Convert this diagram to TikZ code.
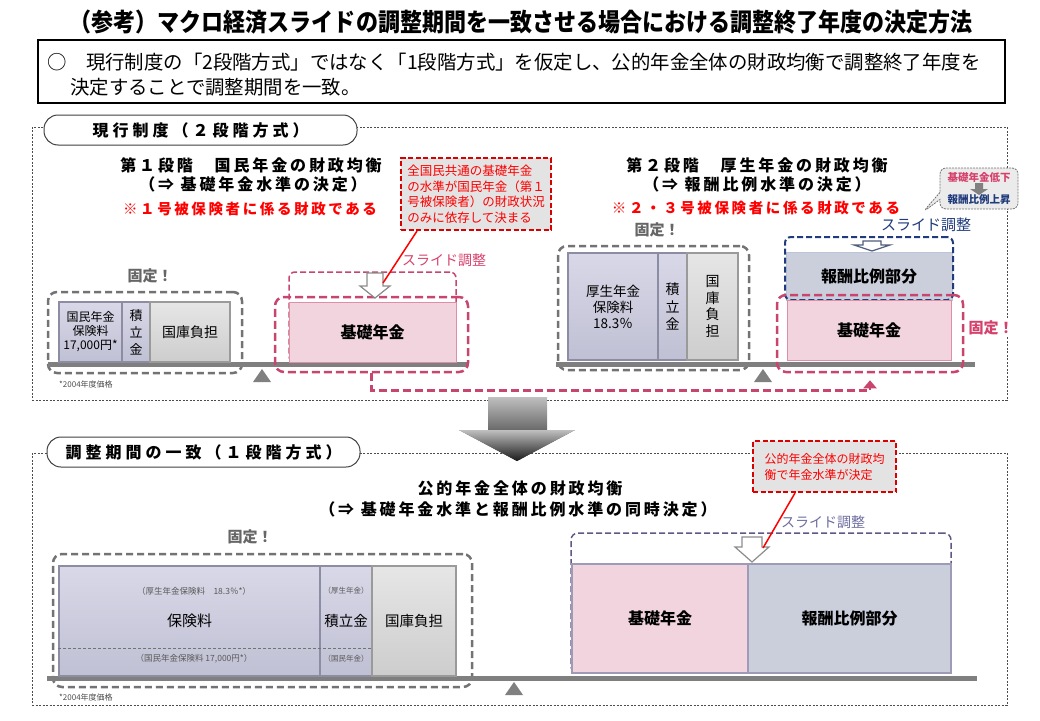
\documentclass[tikz,border=0pt]{standalone}
\usepackage{fontspec}
\setmainfont{Noto Sans CJK JP}
\newfontfamily\spaced{Noto Sans CJK JP}[LetterSpace=25]
\newfontfamily\spacedh{Noto Sans CJK JP}[LetterSpace=18]
\usetikzlibrary{shapes.callouts,arrows.meta,calc}
\definecolor{pinkd}{HTML}{C8456E}
\definecolor{pinkt}{HTML}{D6416C}
\definecolor{pinkf}{HTML}{F2D4DE}
\definecolor{lavt}{HTML}{D8D8E8}
\definecolor{lavbot}{HTML}{C0C0D4}
\definecolor{lavb}{HTML}{8C8CA2}
\definecolor{grt}{HTML}{E6E6E6}
\definecolor{grbot}{HTML}{CDCDCD}
\definecolor{grb}{HTML}{9A9A9A}
\definecolor{navy}{HTML}{1F3B7B}
\definecolor{bluef}{HTML}{CBCFDC}
\definecolor{purp}{HTML}{5E5886}
\definecolor{purpt}{HTML}{6C6CA0}
\definecolor{callf}{HTML}{E3E3E3}
\definecolor{beamc}{HTML}{7F7F7F}
\tikzset{
  secbox/.style={draw=black!70, line width=0.8pt, dash pattern=on 2pt off 1.5pt, inner sep=0},
  pill/.style={draw=black!75, fill=white, line width=1pt, rounded corners=14pt, inner sep=0, font=\spaced\bfseries\fontsize{16}{19}\selectfont},
  head/.style={font=\spacedh\bfseries\fontsize{16}{19}\selectfont, inner sep=0},
  redhead/.style={font=\spacedh\bfseries\fontsize{14.5}{17}\selectfont, text=red, inner sep=0},
  grpgray/.style={draw=black!55, line width=2.5pt, dash pattern=on 7pt off 4pt, rounded corners=9pt, inner sep=0},
  grppink/.style={draw=pinkd, line width=2.5pt, dash pattern=on 8pt off 4pt, rounded corners=9pt, inner sep=0},
  lavbox/.style={draw=lavb, line width=1.2pt, top color=lavt, bottom color=lavbot, inner sep=0, align=center},
  graybox/.style={draw=grb, line width=1.2pt, top color=grt, bottom color=grbot, inner sep=0, align=center},
  kotei/.style={font=\bfseries\fontsize{15}{18}\selectfont, text=black!60, inner sep=0},
  slide/.style={font=\fontsize{14}{17}\selectfont, inner sep=0},
  callred/.style={draw=red!85!black, line width=2pt, dash pattern=on 5pt off 2.5pt, fill=callf, text=red, align=left, inner sep=0},
  beamst/.style={fill=beamc, inner sep=0, minimum height=5pt},
  fulc/.style={fill=black!50},
  note/.style={font=\fontsize{8}{9}\selectfont, text=black!70, inner sep=0, anchor=west},
  conn/.style={draw=red, line width=1.5pt},
  pinkconn/.style={draw=pinkd, line width=2.5pt, dash pattern=on 8pt off 4pt, -{Triangle[length=8pt,width=13pt]}},
  pics/hdn/.style args={#1/#2/#3/#4}{code={\path[pic actions] (-#1,0) -- (#1,0) -- (#1,#3) -- (#2,#3) -- (0,#4) -- (-#2,#3) -- (-#1,#3) -- cycle;}}
}
\begin{document}
\begin{tikzpicture}[x=1pt,y=-1pt]
\useasboundingbox (0,0) rectangle (1040,720);
% title
\node[font=\bfseries\fontsize{25}{29}\selectfont, inner sep=0] (title) at (521,22) {\scalebox{0.88}[1]{（参考）マクロ経済スライドの調整期間を一致させる場合における調整終了年度の決定方法}};
\node[draw=black, line width=1.2pt, minimum width=967pt, minimum height=63pt, inner sep=0] (sumbox) at (521.5,71.5) {};
\node[anchor=west, inner sep=0, font=\fontsize{19.4}{23}\selectfont] (sum1) at (47,62) {○　現行制度の「2段階方式」ではなく「1段階方式」を仮定し、公的年金全体の財政均衡で調整終了年度を};
\node[anchor=west, inner sep=0, font=\fontsize{19.4}{23}\selectfont] (sum2) at (70,87) {決定することで調整期間を一致。};

% ===== section 1
\node[secbox, minimum width=975pt, minimum height=273pt] (sec1) at (519.5,263.5) {};
\node[pill, minimum width=313pt, minimum height=30pt] (pill1) at (200.5,130) {現行制度（２段階方式）};

\node[head] (h1a) at (251,165) {第１段階　国民年金の財政均衡};
\node[head] (h1b) at (253,184) {（⇒ 基礎年金水準の決定）};
\node[redhead] (h1c) at (250,209) {※１号被保険者に係る財政である};

\node[kotei] (kotei1) at (150,276) {固定！};
\node[grpgray, minimum width=194pt, minimum height=81pt] (grp1) at (145,332.5) {};
\node[beamst, minimum width=420pt] (beam1) at (258,364) {};
\node[lavbox, minimum width=63pt, minimum height=60pt, font=\fontsize{12}{14}\selectfont] (kok1) at (90.5,332) {国民年金\\保険料\\17,000円*};
\node[lavbox, minimum width=28pt, minimum height=60pt, font=\fontsize{13}{17}\selectfont] (tsu1) at (136,332) {積\\立\\金};
\node[graybox, minimum width=80pt, minimum height=60pt, font=\fontsize{14}{17}\selectfont] (kko1) at (190,332) {国庫負担};
\fill[fulc] (253,382) -- (262,369) -- (271,382) -- cycle;
\node[note] (note1) at (59,384) {*2004年度価格};

\node[draw=pinkd, line width=1.5pt, dash pattern=on 6pt off 3pt, rounded corners=6pt, minimum width=167pt, minimum height=90pt, inner sep=0] (kiso1u) at (372.5,317) {};
\node[draw=pinkd!60, line width=1pt, fill=pinkf, minimum width=167pt, minimum height=60pt, inner sep=0, font=\bfseries\fontsize{16}{19}\selectfont] (kiso1) at (372.5,332) {基礎年金};
\node[grppink, minimum width=193pt, minimum height=75pt] (kiso1o) at (371.5,334.5) {};
\pic[draw=black!45, fill=white, line width=1.2pt] (arr1) at (375,273) {hdn={8/15/13/25}};
\coordinate (arr1tip) at (383,283);
\node[slide, text=pinkt] (slide1) at (444,260) {スライド調整};
\node[callred, minimum width=150pt, minimum height=72pt, font=\fontsize{12.5}{15.5}\selectfont] (call1) at (476,194) {全国民共通の基礎年金\\の水準が国民年金（第１\\号被保険者）の財政状況\\のみに依存して決まる};
\draw[conn] ($(call1.south west)+(17,0)$) -- (arr1tip);

% right part
\node[head] (h2a) at (757,165) {第２段階　厚生年金の財政均衡};
\node[head] (h2b) at (757,184) {（⇒ 報酬比例水準の決定）};
\node[redhead] (h2c) at (756,208) {※２・３号被保険者に係る財政である};

\node[kotei] (kotei2) at (657,230) {固定！};
\node[grpgray, minimum width=191pt, minimum height=124pt] (grp2) at (653.5,308) {};
\node[beamst, minimum width=419pt] (beam2) at (765.5,364) {};
\node[lavbox, minimum width=90pt, minimum height=107pt, font=\fontsize{13.5}{16}\selectfont] (kos2) at (613,306.5) {厚生年金\\保険料\\18.3％};
\node[lavbox, minimum width=29pt, minimum height=107pt, font=\fontsize{14}{17.5}\selectfont] (tsu2) at (672.5,306.5) {積\\立\\金};
\node[graybox, minimum width=51pt, minimum height=107pt, font=\fontsize{14}{16.7}\selectfont] (kko2) at (712.5,306.5) {国\\庫\\負\\担};
\fill[fulc] (754,382) -- (763,369) -- (772,382) -- cycle;

\node[draw=navy!30, fill=bluef, minimum width=166pt, minimum height=48pt, inner sep=0, font=\bfseries\fontsize{16}{19}\selectfont] (hop2) at (869,276) {報酬比例部分};
\node[draw=navy, line width=2pt, dash pattern=on 6pt off 3pt, rounded corners=6pt, minimum width=168pt, minimum height=63pt, inner sep=0] (hopo2) at (869,268.5) {};
\pic[draw=navy!50!gray, fill=white, line width=1.2pt] (arr2) at (872,241) {hdn={9/18/4/10}};
\node[slide, text=navy, font=\fontsize{15}{18}\selectfont] (slide2) at (926,225) {スライド調整};
\node[draw=pinkd!60, line width=1pt, fill=pinkf, minimum width=164pt, minimum height=60pt, inner sep=0, font=\bfseries\fontsize{16}{19}\selectfont] (kiso2) at (869,330) {基礎年金};
\node[grppink, minimum width=186pt, minimum height=77pt] (kiso2o) at (870,333.5) {};
\node[kotei, text=pinkt, fill=white, inner sep=2pt] (kotei3) at (991,328) {固定！};

\coordinate (bubtip) at (923,212);
\node[rectangle callout, rounded corners=6pt, draw=black!55, line width=0.8pt, dash pattern=on 2pt off 1pt, fill=black!8, callout absolute pointer={(bubtip)}, minimum width=78pt, minimum height=41pt, inner sep=0, align=center, font=\bfseries\fontsize{10.5}{12}\selectfont] (bub) at (979,188.5) {\textcolor{pinkt}{基礎年金低下}\\[10pt]\textcolor{navy}{報酬比例上昇}};
\fill[black!50] (975,183) -- (983,183) -- (983,189) -- (988,189) -- (979,195) -- (970,189) -- (975,189) -- cycle;

\draw[pinkconn] (kiso1o.south) -- ++(0,17) -| ([yshift=-7pt]kiso2o.south);

% big arrow
\shade[top color=black!25, bottom color=black!90] (488,397) -- (547,397) -- (547,430) -- (575,430) -- (517,461) -- (459,430) -- (488,430) -- cycle;

% ===== section 2
\node[secbox, minimum width=975pt, minimum height=252pt] (sec2) at (519.5,579) {};
\node[pill, minimum width=313pt, minimum height=30pt] (pill2) at (203.5,452) {調整期間の一致（１段階方式）};
\shade[top color=black!25, bottom color=black!90] (459,430) -- (575,430) -- (517,461) -- cycle;

\node[head] (h3a) at (520,488) {公的年金全体の財政均衡};
\node[head] (h3b) at (518,509) {（⇒ 基礎年金水準と報酬比例水準の同時決定）};

\node[kotei] (kotei4) at (250,537) {固定！};
\node[grpgray, minimum width=419pt, minimum height=133pt] (grp3) at (262.5,620.5) {};
\node[beamst, minimum width=930pt] (beam3) at (512,678) {};
\node[lavbox, minimum width=261pt, minimum height=110pt, font=\fontsize{15}{18}\selectfont] (hok3) at (189.5,621) {保険料};
\node[lavbox, minimum width=52pt, minimum height=110pt, font=\fontsize{14.5}{17}\selectfont] (tsu3) at (346,621) {積立金};
\node[graybox, minimum width=84pt, minimum height=110pt, font=\fontsize{14.5}{17}\selectfont] (kko3) at (414,621) {国庫負担};
\draw[black!55, dash pattern=on 3pt off 2pt, line width=0.7pt] (hok3.west |- 0,648) -- (tsu3.east |- 0,648);
\node[font=\fontsize{8.5}{10}\selectfont, text=black!65, inner sep=0] (hk3a) at (194,591) {（厚生年金保険料　18.3％*）};
\node[font=\fontsize{8.5}{10}\selectfont, text=black!65, inner sep=0] (hk3b) at (194,659) {（国民年金保険料 17,000円*）};
\node[font=\fontsize{7.5}{9}\selectfont, text=black!65, inner sep=0] (ts3a) at (346,591) {（厚生年金）};
\node[font=\fontsize{7.5}{9}\selectfont, text=black!65, inner sep=0] (ts3b) at (346,659) {（国民年金）};
\fill[fulc] (505,695) -- (514,682) -- (523,695) -- cycle;
\node[note] (note3) at (59,697) {*2004年度価格};

\node[draw=purp, line width=1.5pt, dash pattern=on 6pt off 3pt, rounded corners=7pt, minimum width=380pt, minimum height=140pt, inner sep=0] (out3) at (761,603) {};
\node[draw=purp!60, line width=1.2pt, fill=pinkf, minimum width=176pt, minimum height=109pt, inner sep=0, font=\bfseries\fontsize{16}{19}\selectfont] (kiso3) at (660,618.5) {基礎年金};
\node[draw=purp!60, line width=1.2pt, fill=bluef, minimum width=203pt, minimum height=109pt, inner sep=0, font=\bfseries\fontsize{16}{19}\selectfont] (hop3) at (849.5,618.5) {報酬比例部分};
\pic[draw=black!45, fill=white, line width=1.2pt] (arr3) at (752,537) {hdn={10/17/10/25}};
\coordinate (arr3tip) at (763,548);
\node[slide, text=purpt] (slide3) at (823,522) {スライド調整};
\node[callred, minimum width=143pt, minimum height=51pt, font=\fontsize{12}{16}\selectfont] (call3) at (824.5,466.5) {公的年金全体の財政均\\衡で年金水準が決定};
\draw[conn] ($(call3.south west)+(43,0)$) -- (arr3tip);
\end{tikzpicture}
\end{document}
